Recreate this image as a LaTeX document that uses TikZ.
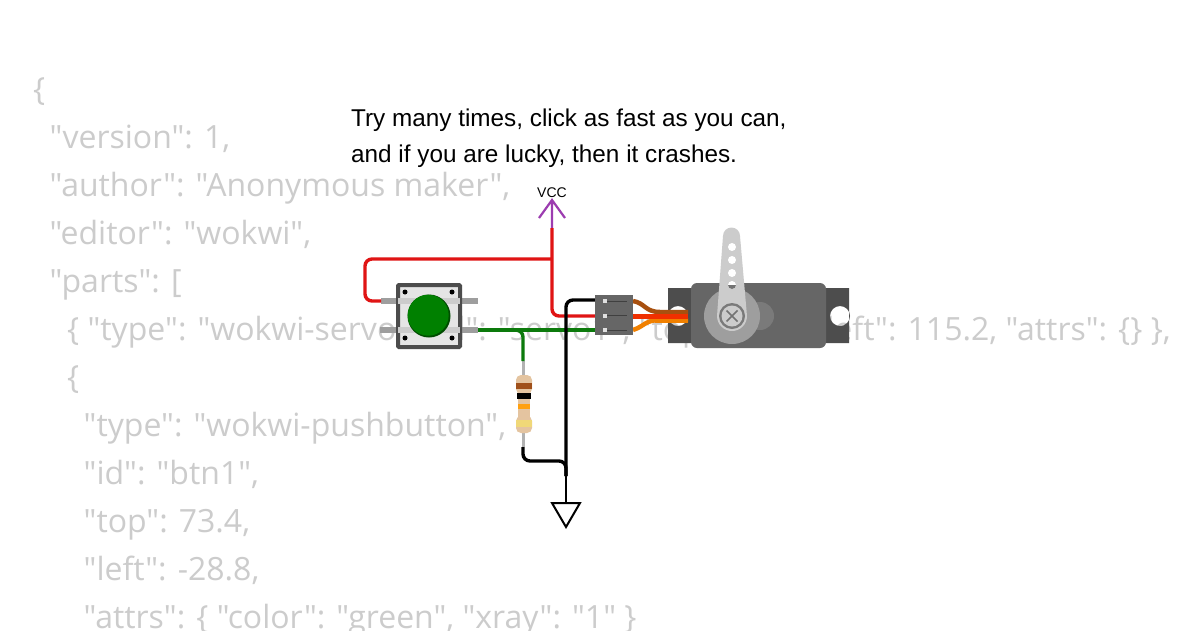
\documentclass[tikz,border=0pt]{standalone}
\usepackage{fontspec}
\newfontfamily\codefont{Open Sans}
\newfontfamily\notefont{Liberation Sans}
\definecolor{codegray}{HTML}{CCCCCC}
\definecolor{redwire}{HTML}{E01414}
\definecolor{greenwire}{HTML}{0C7A0C}
\definecolor{vccpurple}{HTML}{9C3CB0}
\definecolor{resbody}{HTML}{E4C4A0}
\definecolor{bandbrown}{HTML}{A0501A}
\definecolor{bandorange}{HTML}{FFA010}
\definecolor{bandyellow}{HTML}{F0D878}
\definecolor{srvbrown}{HTML}{A8500F}
\definecolor{srvred}{HTML}{F03000}
\definecolor{srvorange}{HTML}{F08000}
\definecolor{plate}{HTML}{4D4D4D}
\definecolor{servobody}{HTML}{666666}
\definecolor{armgray}{HTML}{CCCCCC}
\definecolor{hubsmall}{HTML}{7A7A7A}
\tikzset{
  code/.style={anchor=base west,inner sep=0pt,text=codegray,font=\codefont\fontsize{32}{32}\selectfont},
  note/.style={anchor=base west,inner sep=0pt,text=black,font=\notefont\fontsize{24.3}{24}\selectfont},
  wire/.style={line width=3.4pt,rounded corners=7pt},
  pin/.style={line width=5.5pt,color=black!38},
  hdrline/.style={line width=0.8pt,color=black!75},
  hdrpin/.style={fill=black!12,draw=none,minimum width=4pt,minimum height=4pt,inner sep=0pt},
  dot/.style={circle,fill=black,inner sep=0pt,minimum size=5pt},
  lbl/.style={inner sep=0pt},
  band/.style={line width=6pt,line cap=butt},
  srvwire/.style={line width=4.5pt,line cap=butt}
}
\begin{document}
\begin{tikzpicture}[x=1pt,y=-1pt]
\useasboundingbox (0,0) rectangle (1200,630);
\fill[white] (0,0) rectangle (1200,630);
\begin{scope}
\clip (0,0) rectangle (1200,630);
\node[code] (c1) at (33,100) {\{};
\node[code] (c2) at (49.5,148) {"version": 1,};
\node[code] (c3) at (49.5,196) {"author": "Anonymous maker",};
\node[code] (c4) at (49.5,244) {"editor": "wokwi",};
\node[code] (c5) at (49.5,292) {"parts": [};
\node[code] (c6) at (67,340) {\{ "type": "wokwi-servo", "id": "servo1", "top": 11.2, "left": 115.2, "attrs": \{\} \},};
\node[code] (c7) at (67,388) {\{};
\node[code] (c8) at (83.5,436) {"type": "wokwi-pushbutton",};
\node[code] (c9) at (83.5,484) {"id": "btn1",};
\node[code] (c10) at (83.5,532) {"top": 73.4,};
\node[code] (c11) at (83.5,580) {"left": -28.8,};
\node[code] (c12) at (83.5,628) {"attrs": \{ "color": "green", "xray": "1" \}};
\end{scope}
\node[note] (n1) at (351,126) {Try many times, click as fast as you can,};
\node[note] (n2) at (351,162) {and if you are lucky, then it crashes.};
% VCC
\node[lbl,font=\notefont\fontsize{14}{14}\selectfont] (vcclbl) at (552,193) {VCC};
\coordinate (vcctop) at (552,200);
\coordinate (vccl) at (539,218);
\coordinate (vccr) at (565,218);
\coordinate (vccbot) at (552,228);
\draw[vccpurple,line width=2.2pt] (vccl) -- (vcctop) -- (vccr) (vcctop) -- (vccbot);
% pushbutton
\coordinate (bl1) at (381,301); \coordinate (bl2) at (380,330);
\coordinate (br1) at (478,301); \coordinate (br2) at (478,330);
\draw[pin] (bl1) -- (br1) (bl2) -- (br2);
\node[draw=black!70,line width=4pt,fill=black!10,minimum size=62pt,inner sep=0pt,rounded corners=1pt] (btn) at (429,316) {};
\draw[line width=5.5pt,black!20] (398,301) -- (460,301) (398,330) -- (460,330);
\node[dot] (h1) at (405,292) {}; \node[dot] (h2) at (452,292) {};
\node[dot] (h3) at (405,338) {}; \node[dot] (h4) at (452,338) {};
\fill[green!30!black] (429,316) circle (21.5);
\fill[green!50!black] (428.2,315.2) circle (20.5);
% resistor
\coordinate (rt) at (523,361); \coordinate (rb) at (523,447);
\draw[line width=3pt,black!30] (rt) -- (rb);
\fill[resbody] (518,385) rectangle (530,425);
\fill[resbody,rounded corners=5pt] (516,375) rectangle (532,394);
\fill[resbody,rounded corners=5pt] (516,416) rectangle (532,433);
\draw[band,bandbrown] (516,386) -- (532,386);
\draw[band,black] (517,396) -- (531,396);
\draw[band,bandorange,line width=5pt] (518,406.5) -- (530,406.5);
\draw[band,bandyellow,line width=7pt] (516,423) -- (532,423);
% servo
\fill[plate,even odd rule] (668,288) rectangle (849,343) (678,316) circle (10) (840,316) circle (10);
\node[draw=none,fill=servobody,rounded corners=6pt,minimum width=135pt,minimum height=65pt,inner sep=0pt] (servo) at (758.5,315.5) {};
% header
\coordinate (p1) at (596,300); \coordinate (p2) at (596,316); \coordinate (p3) at (596,330);
\draw[srvwire,srvorange] (633,330) .. controls (645,326) and (645,320) .. (660,320) -- (688,320);
\draw[srvwire,srvbrown] (633,301) .. controls (645,303) and (645,312) .. (660,312) -- (688,312);
\draw[srvwire,srvorange] (655,320.5) -- (688,320.5);
\draw[srvwire,srvred,line width=5pt] (633,316) -- (688,316);
% wires
\draw[wire,redwire] (vccbot) -- (552,316) -- (p2);
\draw[wire,redwire] (552,259) -- (365,259) -- (365,301) -- (bl1);
\draw[line width=3.4pt,greenwire] (br2) -- (p3);
\draw[wire,greenwire] (513,330) -- (523,330) -- (rt);
\draw[wire,black] (566,476) -- (566,300) -- (p1);
\coordinate (gndtop) at (566,503);
\draw[wire,black] (rb) -- (523,461) -- (566,461) -- (566,476);
\draw[black,line width=2pt] (566,476) -- (gndtop);
\draw[black,line width=2pt,line join=miter] (gndtop) -- (552,503) -- (566,527) -- (580,503) -- cycle;
\node[fill=black!60,minimum width=38pt,minimum height=40pt,inner sep=0pt] (hdr) at (614,315) {};
\draw[hdrline] (607,301) -- (627,301) (607,315.5) -- (627,315.5) (607,330) -- (627,330);
\node[hdrpin] (hp1) at (605,301) {}; \node[hdrpin] (hp2) at (605,315.5) {}; \node[hdrpin] (hp3) at (605,330) {};
% servo horn
\fill[hubsmall] (760,316) circle (14);
\fill[black!38] (732,316) circle (28);
\fill[armgray] (723,236) arc (180:360:8.5) -- (747,316) arc (0:180:15) -- cycle;
\fill[white] (732,247) circle (4) (732,260) circle (4) (732,273) circle (4) (732,285) circle (4);
\fill[black!55] (728,285) arc (180:0:4) -- cycle;
\fill[black!52] (732,316) circle (13);
\fill[armgray] (732,316) circle (10.5);
\draw[black!55,line width=1.5pt] (726.5,310.5) -- (737.5,321.5) (726.5,321.5) -- (737.5,310.5);
\end{tikzpicture}
\end{document}
